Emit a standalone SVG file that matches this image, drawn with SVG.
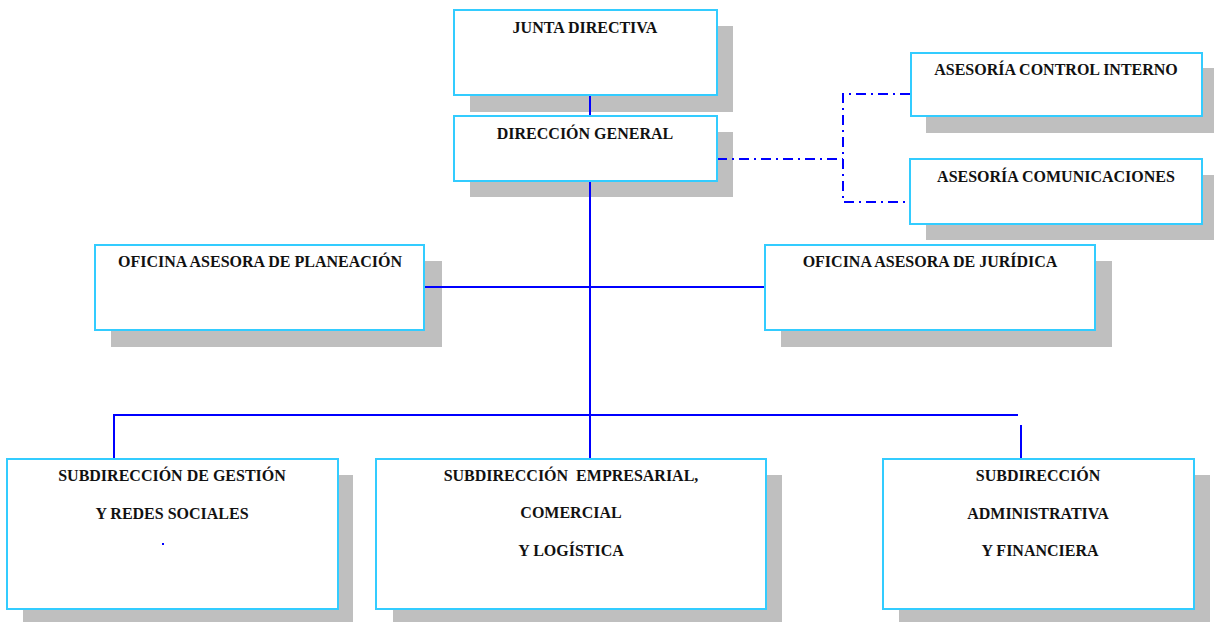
<svg xmlns="http://www.w3.org/2000/svg" width="1214" height="622" viewBox="0 0 1214 622">
<style>
.sh{fill:#bfbfbf}
.bx{fill:#fff;stroke:#33ccff;stroke-width:2}
.t{font-family:"Liberation Serif","Times New Roman",serif;font-weight:bold;font-size:16px;fill:#111;text-anchor:middle;white-space:pre}
.ln{stroke:#0000ff;stroke-width:2;fill:none}
.dd{stroke:#0000ff;stroke-width:2;fill:none;stroke-dasharray:10 5 2 5}
</style>
<rect width="1214" height="622" fill="#fff"/>
<g id="shadows">
<rect class="sh" x="470" y="26" width="263" height="86"/>
<rect class="sh" x="470" y="132" width="263" height="65"/>
<rect class="sh" x="926" y="68" width="288" height="65"/>
<rect class="sh" x="926" y="175" width="288" height="65"/>
<rect class="sh" x="111" y="261" width="331" height="86"/>
<rect class="sh" x="781" y="261" width="331" height="86"/>
<rect class="sh" x="23" y="475" width="330" height="147"/>
<rect class="sh" x="393" y="475" width="389" height="147"/>
<rect class="sh" x="899" y="475" width="311" height="147"/>
</g>
<g id="connectors">
<line class="ln" x1="590" y1="95" x2="590" y2="116"/>
<line class="ln" x1="590" y1="181" x2="590" y2="459"/>
<line class="ln" x1="424" y1="287" x2="765" y2="287"/>
<polyline class="ln" points="114,459 114,415 1018,415"/>
<line class="ln" x1="1021" y1="425" x2="1021" y2="459"/>
<polyline class="dd" points="717,159 843,159"/>
<polyline class="dd" points="910,94 843,94 843,202 910,202"/>
</g>
<g id="junta">
<rect class="bx" x="454" y="10" width="263" height="85"/>
<text class="t" x="585" y="33">JUNTA DIRECTIVA</text>
</g>
<g id="direccion">
<rect class="bx" x="454" y="116" width="263" height="65"/>
<text class="t" x="585" y="139">DIRECCIÓN GENERAL</text>
</g>
<g id="control">
<rect class="bx" x="911" y="53" width="291" height="63"/>
<text class="t" x="1056" y="75">ASESORÍA CONTROL INTERNO</text>
</g>
<g id="comunicaciones">
<rect class="bx" x="910" y="159" width="292" height="65"/>
<text class="t" x="1056" y="182">ASESORÍA COMUNICACIONES</text>
</g>
<g id="planeacion">
<rect class="bx" x="95" y="245" width="329" height="85"/>
<text class="t" x="260" y="267">OFICINA ASESORA DE PLANEACIÓN</text>
</g>
<g id="juridica">
<rect class="bx" x="765" y="245" width="330" height="85"/>
<text class="t" x="930" y="267">OFICINA ASESORA DE JURÍDICA</text>
</g>
<g id="gestion">
<rect class="bx" x="7" y="459" width="331" height="150"/>
<text class="t" x="172" y="481">SUBDIRECCIÓN DE GESTIÓN</text>
<text class="t" x="172" y="519">Y REDES SOCIALES</text>
<rect x="162" y="543" width="2" height="2" fill="#0000ff"/>
</g>
<g id="empresarial">
<rect class="bx" x="376" y="459" width="390" height="150"/>
<text class="t" x="571" y="481">SUBDIRECCIÓN  EMPRESARIAL,</text>
<text class="t" x="571" y="518">COMERCIAL</text>
<text class="t" x="571" y="556">Y LOGÍSTICA</text>
</g>
<g id="administrativa">
<rect class="bx" x="883" y="459" width="311" height="150"/>
<text class="t" x="1038" y="481">SUBDIRECCIÓN</text>
<text class="t" x="1038" y="519">ADMINISTRATIVA</text>
<text class="t" x="1040" y="556">Y FINANCIERA</text>
</g>
</svg>
